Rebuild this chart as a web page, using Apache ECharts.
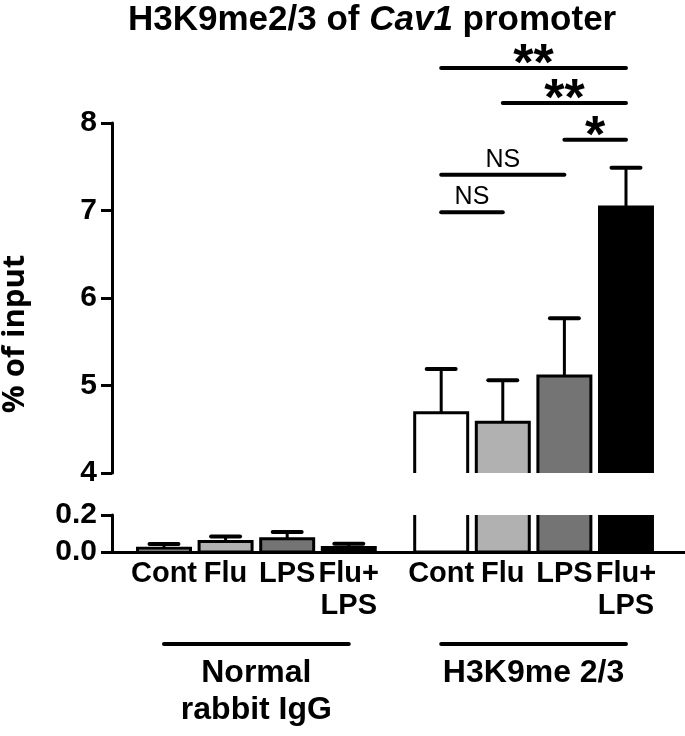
<!DOCTYPE html>
<html><head><meta charset="utf-8">
<script src="https://cdn.jsdelivr.net/npm/echarts@6/dist/echarts.min.js"></script>
<style>html,body{margin:0;padding:0;background:#fff}#c{width:685px;height:736px}</style>
</head><body><div id="c"></div>
<script>
// ---- data ----
const groups = ['Normal\nrabbit IgG', 'H3K9me 2/3'];
const categories = ['Cont', 'Flu', 'LPS', 'Flu+\nLPS'];
const iggMeans = [0.020, 0.057, 0.072, 0.025];
const iggErrors = [0.023, 0.027, 0.036, 0.020];
const h3k9Means = [4.69, 4.58, 5.11, 7.04];
const h3k9Errors = [0.50, 0.48, 0.66, 0.45];
const upperTicks = [4, 5, 6, 7, 8];
const lowerTicks = [0, 0.2];
const comparisonPairs = [[0, 3], [1, 3], [2, 3], [0, 2], [0, 1]];
const comparisonLabels = ['**', '**', '*', 'NS', 'NS'];

// ---- styling / layout ----
const barColors = ['#ffffff', '#b1b1b1', '#747474', '#000000'];
const bracketLevels = [8.63, 8.23, 7.81, 7.41, 6.98];
const FONT = '"Liberation Sans", Arial, sans-serif';
const groupStep = categories.length + 0.5;
const xPos = (g, i) => g * groupStep + i;

const allMeans = [iggMeans, h3k9Means];
const allErrors = [iggErrors, h3k9Errors];
const barData = [];
const positions = [];
groups.forEach((g, gi) => {
  categories.forEach((c, ci) => {
    barData.push([xPos(gi, ci), allMeans[gi][ci], allErrors[gi][ci], ci]);
    positions.push(xPos(gi, ci));
  });
});
const labelAt = v => {
  const idx = positions.findIndex(p => Math.abs(p - v) < 1e-6);
  return idx < 0 ? '' : categories[idx % categories.length];
};
const bracketData = comparisonPairs.map((p, i) => [xPos(1, p[0]), xPos(1, p[1]), bracketLevels[i], i]);
const groupData = groups.map((g, gi) => [xPos(gi, 0), xPos(gi, categories.length - 1), gi]);

function renderBar(params, api) {
  const x = api.value(0), v = api.value(1), e = api.value(2), ci = api.value(3);
  const unit = api.size([1, 0])[0];
  const w = unit * 0.86, capW = unit * 0.47;
  const top = api.coord([x, v]);
  const base = api.coord([x, 0]);
  const et = api.coord([x, v + e]);
  return {type: 'group', children: [
    {type: 'rect', shape: {x: top[0] - w / 2, y: top[1], width: w, height: base[1] - top[1]},
     style: {fill: barColors[ci], stroke: '#000', lineWidth: 3}},
    {type: 'line', shape: {x1: top[0], y1: top[1], x2: top[0], y2: et[1]},
     style: {stroke: '#000', lineWidth: 3}},
    {type: 'line', shape: {x1: top[0] - capW / 2, y1: et[1], x2: top[0] + capW / 2, y2: et[1]},
     style: {stroke: '#000', lineWidth: 4, lineCap: 'round'}}
  ]};
}
function renderBracket(params, api) {
  const p1 = api.coord([api.value(0), api.value(2)]);
  const p2 = api.coord([api.value(1), api.value(2)]);
  const lbl = comparisonLabels[api.value(3)];
  const star = lbl !== 'NS';
  return {type: 'group', children: [
    {type: 'line', shape: {x1: p1[0], y1: p1[1], x2: p2[0], y2: p2[1]},
     style: {stroke: '#000', lineWidth: 4, lineCap: 'round'}},
    {type: 'text', x: (p1[0] + p2[0]) / 2, y: p1[1] - (star ? 2 : 15),
     style: {text: lbl, font: star ? 'bold 52px ' + FONT : '25px ' + FONT, fill: '#000', align: 'center', verticalAlign: 'middle'}}
  ]};
}
function renderGroup(params, api) {
  const p1 = api.coord([api.value(0), 0]);
  const p2 = api.coord([api.value(1), 0]);
  const y = p1[1] + 92;
  return {type: 'group', children: [
    {type: 'line', shape: {x1: p1[0], y1: y, x2: p2[0], y2: y}, style: {stroke: '#000', lineWidth: 4, lineCap: 'round'}},
    {type: 'text', x: (p1[0] + p2[0]) / 2, y: y + 11,
     style: {text: groups[api.value(2)], font: 'bold 32px ' + FONT, lineHeight: 37, fill: '#000', align: 'center', verticalAlign: 'top'}}
  ]};
}

const xMin = -0.844, xMax = 8.458;
const yAxisCommon = {
  axisLine: {show: true, onZero: false, lineStyle: {color: '#000', width: 3}},
  splitLine: {show: false},
};
const chart = echarts.init(document.getElementById('c'));
chart.setOption({
  animation: false,
  backgroundColor: '#fff',
  title: {
    text: '{a|H3K9me2/3 of }{b|Cav1}{a| promoter}',
    left: 128, top: 3, padding: 0,
    textStyle: {fontSize: 35, fontWeight: 'bold', fontFamily: FONT, color: '#000',
      rich: {a: {fontSize: 35, fontWeight: 'bold', fontFamily: FONT, color: '#000'},
             b: {fontSize: 35, fontWeight: 'bold', fontStyle: 'italic', fontFamily: FONT, color: '#000'}}}
  },
  graphic: [{type: 'text', x: 15, y: 334, rotation: Math.PI / 2,
    style: {text: '% of input', font: 'bold 31px "Open Sans", sans-serif', fill: '#000', align: 'center', verticalAlign: 'middle'}}],
  grid: [
    {left: 112, right: 0, top: 123, height: 350},
    {left: 112, right: 0, top: 515, height: 37}
  ],
  xAxis: [
    {type: 'value', gridIndex: 0, min: xMin, max: xMax, show: false},
    {type: 'value', gridIndex: 1, min: xMin, max: xMax,
     axisLine: {show: true, onZero: false, lineStyle: {color: '#000', width: 3}},
     axisTick: {show: false}, splitLine: {show: false},
     axisLabel: {customValues: positions, formatter: v => labelAt(v), fontSize: 29, fontWeight: 'bold',
       fontFamily: FONT, color: '#000', margin: 6, lineHeight: 32, hideOverlap: false}}
  ],
  yAxis: [
    Object.assign({type: 'value', gridIndex: 0, min: 4, max: 8, interval: 1,
      axisLabel: {customValues: upperTicks, fontSize: 30, fontWeight: 'bold', fontFamily: FONT, color: '#000', margin: 15},
      axisTick: {show: true, customValues: upperTicks, length: 11, lineStyle: {color: '#000', width: 3}}}, yAxisCommon),
    Object.assign({type: 'value', gridIndex: 1, min: 0, max: 0.2, interval: 0.2,
      axisLabel: {customValues: lowerTicks, formatter: v => v.toFixed(1), fontSize: 30, fontWeight: 'bold', fontFamily: FONT, color: '#000', margin: 15},
      axisTick: {show: true, customValues: lowerTicks, length: 11, lineStyle: {color: '#000', width: 3}}}, yAxisCommon)
  ],
  series: [
    {type: 'custom', xAxisIndex: 0, yAxisIndex: 0, clip: true, data: barData, renderItem: renderBar},
    {type: 'custom', xAxisIndex: 1, yAxisIndex: 1, clip: true, data: barData, renderItem: renderBar},
    {type: 'custom', xAxisIndex: 0, yAxisIndex: 0, clip: false, data: bracketData, renderItem: renderBracket},
    {type: 'custom', xAxisIndex: 1, yAxisIndex: 1, clip: false, data: groupData, renderItem: renderGroup}
  ]
});
</script></body></html>
